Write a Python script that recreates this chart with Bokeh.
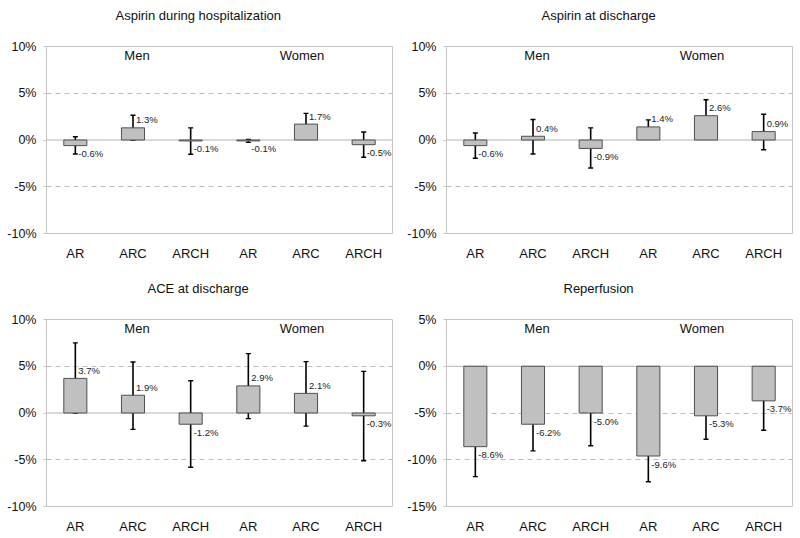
from bokeh.plotting import figure
from bokeh.models import (ColumnDataSource, Range1d, FixedTicker, PrintfTickFormatter,
                          Whisker, TeeHead, Span)
from bokeh.layouts import column, row
from bokeh.embed import file_html
from bokeh.resources import INLINE
from bokeh.core.properties import value

# ---------------- data ----------------
categories = ["AR", "ARC", "ARCH", "AR", "ARC", "ARCH"]
groups = ["Men", "Women"]

titles = ["Aspirin during hospitalization", "Aspirin at discharge",
          "ACE at discharge", "Reperfusion"]

asp_hosp = [-0.6, 1.3, -0.1, -0.1, 1.7, -0.5]
asp_hosp_lo = [-1.5, 0.0, -1.52, -0.25, 0.45, -1.85]
asp_hosp_hi = [0.35, 2.65, 1.3, 0.05, 2.85, 0.85]

asp_dis = [-0.6, 0.4, -0.9, 1.4, 2.6, 0.9]
asp_dis_lo = [-1.95, -1.5, -3.0, 0.75, 1.0, -1.05]
asp_dis_hi = [0.75, 2.2, 1.3, 2.15, 4.3, 2.75]

ace = [3.7, 1.9, -1.2, 2.9, 2.1, -0.3]
ace_lo = [0.0, -1.75, -5.8, -0.6, -1.4, -5.1]
ace_hi = [7.5, 5.45, 3.45, 6.35, 5.5, 4.45]

reperf = [-8.6, -6.2, -5.0, -9.6, -5.3, -3.7]
reperf_lo = [-11.8, -9.05, -8.5, -12.35, -7.8, -6.85]
reperf_hi = [-5.4, -3.0, -1.85, -6.35, -2.1, -0.45]

y_ranges = [(-10, 10), (-10, 10), (-10, 10), (-15, 5)]
y_ticks = [[-10, -5, 0, 5, 10]] * 3 + [[-15, -10, -5, 0, 5]]
dash_ticks = [[-5, 5]] * 3 + [[-10, -5]]

FONT = "Liberation Sans"
BAR_FILL = "#c0c0c0"
BAR_LINE = "#505050"
FRAME = "#c4c4c4"


def make_panel(title, vals, lo, hi, yr, yt, dt, top_border, bottom_border,
               title_offset, title_standoff):
    xs = [i + 0.5 for i in range(len(categories))]
    src = ColumnDataSource(dict(
        x=xs, top=vals, lo=lo, hi=hi,
        lab=[f"{v:.1f}%" for v in vals],
        yoff=[-8 if v > 0 else 8 for v in vals],
    ))
    p = figure(frame_width=346, frame_height=187,
               x_range=Range1d(0, len(categories)), y_range=Range1d(*yr),
               output_backend="svg", toolbar_location=None,
               min_border_left=46, min_border_right=8,
               min_border_top=top_border, min_border_bottom=bottom_border,
               background_fill_color="white", border_fill_color="white")
    # trailing blank line lifts the title away from the plot area
    p.title.text = title + "\n "
    p.title.text_font = FONT
    p.title.text_font_size = "13px"
    p.title.text_font_style = "normal"
    p.title.text_color = "#111111"
    p.title.align = "left"
    p.title.vertical_align = "top"
    p.title.offset = title_offset
    p.title.standoff = title_standoff

    p.outline_line_color = FRAME
    p.outline_line_width = 1

    # grid
    p.xgrid.visible = False
    p.ygrid.ticker = FixedTicker(ticks=dt)
    p.ygrid.grid_line_color = "#bdbdbd"
    p.ygrid.grid_line_dash = "5 4"
    p.ygrid.grid_line_width = 1

    zero = Span(location=0, dimension="width", line_color="#b4b4b4",
                line_width=1, level="underlay")
    p.add_layout(zero)

    # axes
    p.yaxis.ticker = FixedTicker(ticks=yt)
    p.yaxis.formatter = PrintfTickFormatter(format="%d%%")
    p.yaxis.axis_line_color = None
    p.yaxis.major_tick_line_color = FRAME
    p.yaxis.major_tick_out = 3
    p.yaxis.major_tick_in = 0
    p.yaxis.minor_tick_line_color = None
    p.yaxis.major_label_text_font = FONT
    p.yaxis.major_label_text_font_size = "12.5px"
    p.yaxis.major_label_text_color = "#111111"
    p.yaxis.major_label_standoff = 7

    p.xaxis.ticker = FixedTicker(ticks=xs)
    p.xaxis.major_label_overrides = {x: c for x, c in zip(xs, categories)}
    p.xaxis.axis_line_color = None
    p.xaxis.major_tick_line_color = None
    p.xaxis.minor_tick_line_color = None
    p.xaxis.major_label_text_font = FONT
    p.xaxis.major_label_text_font_size = "13px"
    p.xaxis.major_label_text_color = "#111111"
    p.xaxis.major_label_standoff = 6

    # bars
    p.vbar(x="x", top="top", bottom=0, width=0.4, source=src,
           fill_color=BAR_FILL, line_color=BAR_LINE, line_width=1)

    # error bars
    w = Whisker(base="x", upper="hi", lower="lo", source=src, dimension="height",
                line_color="black", line_width=1.6,
                upper_head=TeeHead(size=5, line_color="black", line_width=1.4),
                lower_head=TeeHead(size=5, line_color="black", line_width=1.4))
    p.add_layout(w)

    # value labels
    p.text(x="x", y="top", text="lab", source=src, x_offset=3, y_offset="yoff",
           text_align="left", text_baseline="middle",
           text_font=value(FONT), text_font_size="9.5px", text_color="#222222")

    # group labels
    gsrc = ColumnDataSource(dict(x=[1.5, 4.5], y=[yr[1], yr[1]], t=groups,
                                 xo=[4, -4]))
    p.text(x="x", y="y", text="t", source=gsrc, x_offset="xo", y_offset=9,
           text_align="center", text_baseline="middle",
           text_font=value(FONT), text_font_size="13px", text_color="#111111")
    return p


data = [(asp_hosp, asp_hosp_lo, asp_hosp_hi),
        (asp_dis, asp_dis_lo, asp_dis_hi),
        (ace, ace_lo, ace_hi),
        (reperf, reperf_lo, reperf_hi)]

title_offsets = [69, 95, 101, 117]
panels = []
for i, (v, lo, hi) in enumerate(data):
    top_row = i < 2
    panels.append(make_panel(
        titles[i], v, lo, hi, y_ranges[i], y_ticks[i], dash_ticks[i],
        top_border=46 if top_row else 51,
        bottom_border=35 if top_row else 32,
        title_offset=title_offsets[i],
        title_standoff=14))

layout = column(row(panels[0], panels[1]), row(panels[2], panels[3]))

with open("out.html", "w") as f:
    f.write(file_html(layout, INLINE))
